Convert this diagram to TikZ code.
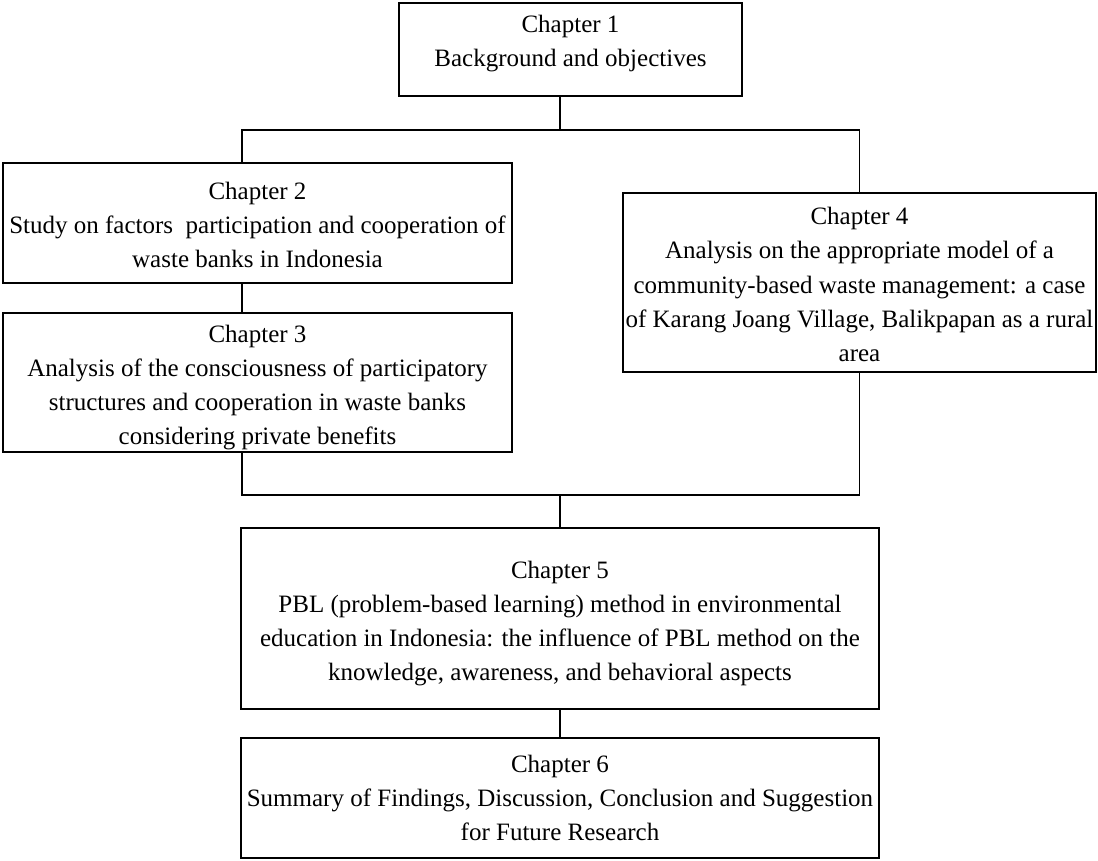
\documentclass[tikz,border=0pt]{standalone}
\usepackage{fontspec}
\setmainfont{Liberation Serif}
\begin{document}
\begin{tikzpicture}[x=1pt,y=-1pt,
  frame/.style={draw, rectangle, line width=1.9pt, inner sep=0pt, outer sep=0pt},
  caption/.style={align=center, inner sep=0pt, font=\fontsize{25}{34.3}\selectfont},
  wire/.style={line width=1.9pt}]
\useasboundingbox (0,0) rectangle (1098,860);

% chapter frames
\node[frame, minimum width=343pt, minimum height=93pt]  (b1) at (570.5,49.5) {};
\node[frame, minimum width=509pt, minimum height=120pt] (b2) at (257.5,223) {};
\node[frame, minimum width=509pt, minimum height=139pt] (b3) at (257.5,382.5) {};
\node[frame, minimum width=473pt, minimum height=179pt] (b4) at (859.5,282.5) {};
\node[frame, minimum width=638pt, minimum height=181pt] (b5) at (560,618.5) {};
\node[frame, minimum width=638pt, minimum height=120pt] (b6) at (560,798) {};

% chapter texts
\node[caption] (t1) at ([yshift=6pt]b1.center) {Chapter 1\\Background and objectives};
\node[caption] (t2) at ([yshift=-2pt]b2.center)
  {Chapter 2\\Study on factors\ \ participation and cooperation of\\waste banks in Indonesia};
\node[caption] (t3) at ([yshift=-5pt]b3.center)
  {Chapter 3\\Analysis of the consciousness of participatory\\structures and cooperation in waste banks\\considering private benefits};
\node[caption] (t4) at ([yshift=-2pt]b4.center)
  {Chapter 4\\Analysis on the appropriate model of a\\community-based waste management: a case\\of Karang Joang Village, Balikpapan as a rural\\area};
\node[caption] (t5) at ([yshift=-5pt]b5.center)
  {Chapter 5\\PBL (problem-based learning) method in environmental\\education in Indonesia: the influence of PBL method on the\\knowledge, awareness, and behavioral aspects};
\node[caption] (t6) at (b6.center)
  {Chapter 6\\Summary of Findings, Discussion, Conclusion and Suggestion\\for Future Research};

% branching and joining points
\coordinate (split) at (560,130);
\coordinate (splitL) at (242,130);
\coordinate (join) at (560,495);

% connectors
\draw[wire] (b1.south -| split) -- (split);
\draw[wire] (b2.north -| splitL) -- (splitL) -- (b4.north |- splitL) -- (b4.north);
\draw[wire] (b2.south -| splitL) -- (b3.north -| splitL);
\draw[wire] (b3.south -| splitL) -- (splitL |- join) -- (b4.south |- join) -- (b4.south);
\draw[wire] (join) -- (b5.north -| join);
\draw[wire] (b5.south) -- (b6.north);
\end{tikzpicture}
\end{document}
